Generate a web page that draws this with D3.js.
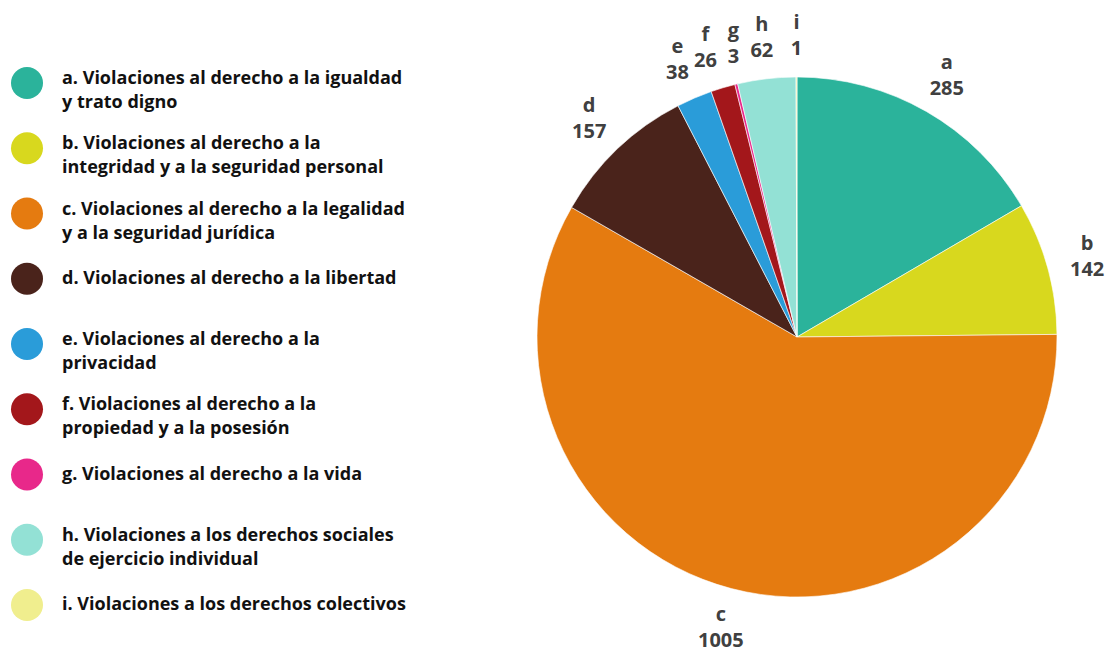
<!DOCTYPE html>
<html><head><meta charset="utf-8">
<script src="https://cdn.jsdelivr.net/npm/d3@7"></script>
<style>body{margin:0;background:#fff;} svg{display:block;}</style>
</head><body>
<svg id="chart" width="1110" height="650"></svg>
<script>
const keys = ["a","b","c","d","e","f","g","h","i"];
const values = [285,142,1005,157,38,26,3,62,1];
const colors = ["#2BB39B","#D8D81E","#E57B10","#4A231B","#2A9CD9","#A3171B","#E8288A","#93E1D5","#F0EE8E"];
const legendLabels = [
  ["a. Violaciones al derecho a la igualdad","y trato digno"],
  ["b. Violaciones al derecho a la","integridad y a la seguridad personal"],
  ["c. Violaciones al derecho a la legalidad","y a la seguridad jurídica"],
  ["d. Violaciones al derecho a la libertad"],
  ["e. Violaciones al derecho a la","privacidad"],
  ["f. Violaciones al derecho a la","propiedad y a la posesión"],
  ["g. Violaciones al derecho a la vida"],
  ["h. Violaciones a los derechos sociales","de ejercicio individual"],
  ["i. Violaciones a los derechos colectivos"]
];

const data = keys.map((k,i)=>({key:k,value:values[i],color:colors[i],legend:legendLabels[i]}));
const svg = d3.select("#chart");
const cx = 797, cy = 337, R = 260, labelR = 301;
const FONT = "'Open Sans', sans-serif";

const pie = d3.pie().value(d=>d.value).sort(null);
const arcs = pie(data);
const arc = d3.arc().innerRadius(0).outerRadius(R);
const g = svg.append("g").attr("transform",`translate(${cx},${cy})`);
g.selectAll("path").data(arcs).join("path")
  .attr("d",arc).attr("fill",d=>d.data.color)
  .attr("stroke","#fff").attr("stroke-width",0.6);

// labels
const labelArc = d3.arc().innerRadius(labelR).outerRadius(labelR);
const pos = arcs.map(a=>{const c=labelArc.centroid(a);return {x:c[0],y:c[1],d:a.data};});
const crowded = pos.filter(p=>p.y < -labelR*0.85).sort((a,b)=>a.x-b.x);
for(let it=0;it<50;it++){
  for(let k=1;k<crowded.length;k++){
    const gap = crowded[k].x-crowded[k-1].x, minGap=28;
    if(gap<minGap){const s=(minGap-gap)/2; crowded[k].x+=s; crowded[k-1].x-=s;}
  }
}
const lg = g.selectAll("g.lbl").data(pos).join("g").attr("class","lbl")
  .attr("transform",p=>`translate(${p.x},${p.y})`);
lg.append("text").attr("text-anchor","middle").attr("y",-7)
  .style("font-family",FONT).style("font-weight","700").style("font-size","20px").attr("fill","#404040")
  .text(p=>p.d.key);
lg.append("text").attr("text-anchor","middle").attr("y",19)
  .style("font-family",FONT).style("font-weight","700").style("font-size","20px").attr("fill","#404040")
  .text(p=>p.d.value);

// legend
const yScale = d3.scalePoint().domain(keys).range([83,605]);
const leg = svg.selectAll("g.leg").data(data).join("g").attr("class","leg")
  .attr("transform",d=>`translate(0,${yScale(d.key)})`);
leg.append("circle").attr("cx",27).attr("cy",0).attr("r",16).attr("fill",d=>d.color);
leg.each(function(d){
  const n=d.legend.length;
  const t=d3.select(this).append("text")
    .style("font-family",FONT).style("font-weight","700").style("font-size","18px").attr("fill","#111");
  d.legend.forEach((line,i)=>{
    t.append("tspan").attr("x",62).attr("y", n===1 ? 5 : (i===0 ? 1 : 25)).text(line);
  });
});
</script>
</body></html>
